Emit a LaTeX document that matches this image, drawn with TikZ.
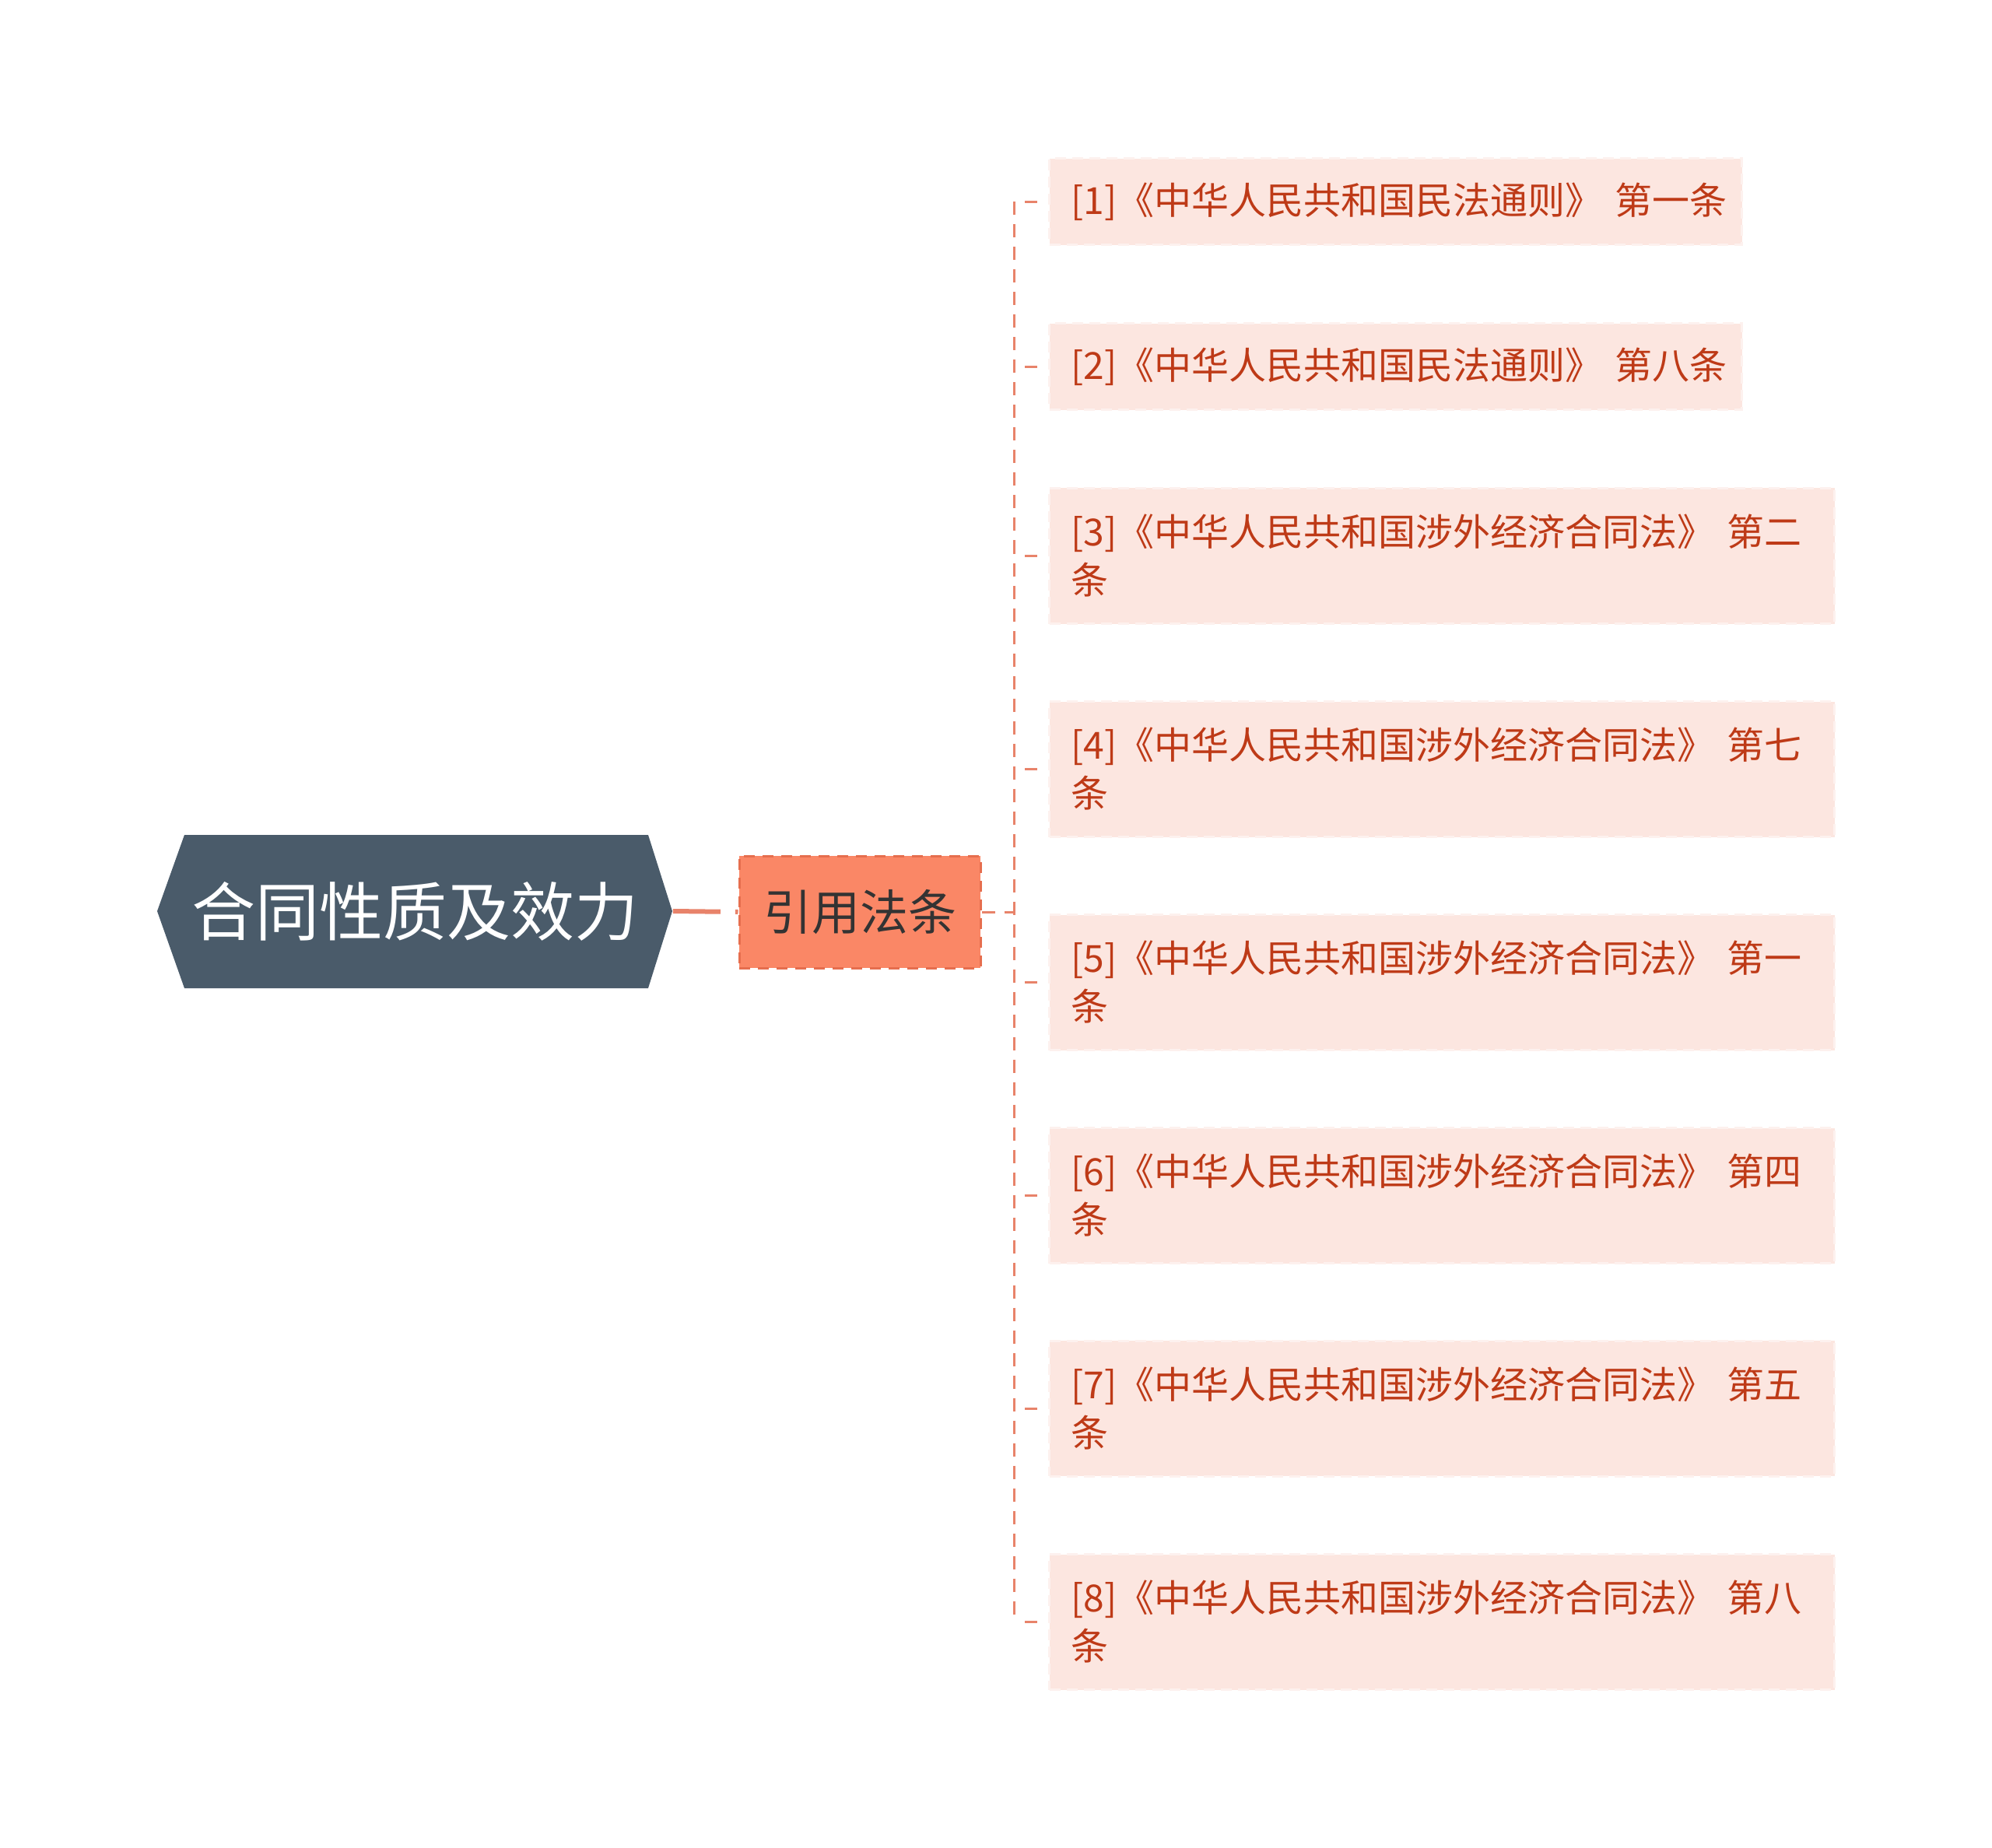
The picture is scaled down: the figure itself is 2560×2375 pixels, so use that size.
\documentclass[tikz,border=0pt]{standalone}
\usepackage{fontspec}
\setmainfont{Noto Sans CJK SC}
\usetikzlibrary{positioning}
\definecolor{rootfill}{HTML}{4A5B6A}
\definecolor{citefill}{HTML}{FA8766}
\definecolor{citeline}{HTML}{E66E4E}
\definecolor{leaffill}{HTML}{FCE6E0}
\definecolor{leafline}{HTML}{FDF1EE}
\definecolor{leaftext}{HTML}{BE3A17}
\definecolor{linkcol}{HTML}{E8836A}
\tikzset{
  leaf/.style={fill=leaffill, draw=leafline, line width=0.75pt, dash pattern=on 3.5pt off 2pt,
    anchor=west, align=left, inner xsep=7pt, inner ysep=0pt, text=leaftext,
    font=\fontsize{12}{15.5}\selectfont},
  shortleaf/.style={leaf, text width=208.5pt, minimum height=27.75pt},
  longleaf/.style={leaf, text width=238.25pt, minimum height=43.5pt},
  link/.style={draw=linkcol, line width=0.75pt, dash pattern=on 4.25pt off 3pt},
  stub/.style={draw=linkcol, line width=0.75pt, dash pattern=on 4pt off 3.5pt, dash phase=4pt},
}
\begin{document}
\begin{tikzpicture}[x=0.25pt,y=-0.25pt]
  \useasboundingbox (0,0) rectangle (2560,2375);
  \fill[rootfill] (202,1171) -- (237,1073) -- (833,1073) -- (864,1171) -- (833,1270) -- (237,1270) -- cycle;
  \node[minimum width=165.5pt, minimum height=49.25pt, text=white, font=\fontsize{20.5}{24}\selectfont] (root) at (533,1171) {合同性质及效力};
  \node[fill=citefill, draw=citeline, line width=0.75pt, dash pattern=on 3.5pt off 2.5pt,
    minimum width=77.5pt, minimum height=36pt, text=black!80, font=\fontsize{15.5}{18}\selectfont] (cite) at (1105,1172) {引用法条};
  \draw[draw=linkcol, line width=1.5pt, dash pattern=on 15.25pt off 4.75pt] (root.east) -- (cite.west);

  \node[shortleaf] (c1) at (1347,259.5) {[1]《中华人民共和国民法通则》~第一条};
  \node[shortleaf] (c2) at (1347,471.5) {[2]《中华人民共和国民法通则》~第八条};
  \node[longleaf] (c3) at (1347,714.5) {[3]《中华人民共和国涉外经济合同法》~第二\\条};
  \node[longleaf] (c4) at (1347,988.5) {[4]《中华人民共和国涉外经济合同法》~第七\\条};
  \node[longleaf] (c5) at (1347,1262.5) {[5]《中华人民共和国涉外经济合同法》~第一\\条};
  \node[longleaf] (c6) at (1347,1536.5) {[6]《中华人民共和国涉外经济合同法》~第四\\条};
  \node[longleaf] (c7) at (1347,1810) {[7]《中华人民共和国涉外经济合同法》~第五\\条};
  \node[longleaf] (c8) at (1347,2084.5) {[8]《中华人民共和国涉外经济合同法》~第八\\条};

  \coordinate (spine) at (1303,1172);
  \draw[link] (cite.east) -- (spine);
  \draw[link] (spine |- c1.west) -- (spine |- c8.west);
  \foreach \i in {1,...,8}
    \draw[stub] (spine |- c\i.west) -- (c\i.west);
\end{tikzpicture}
\end{document}
